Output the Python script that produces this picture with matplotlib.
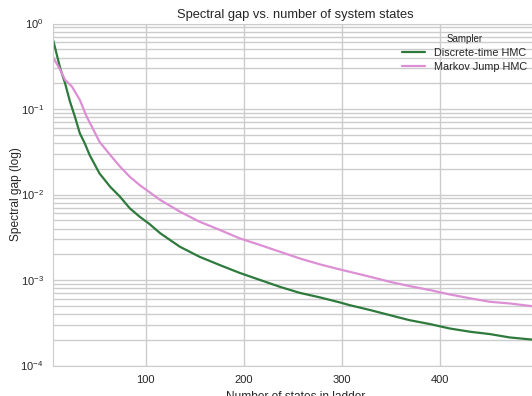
import numpy as np
import seaborn as sns
import matplotlib
matplotlib.use("Agg")
import matplotlib.pyplot as plt

# spectral gap per ladder size, one list per sampler
states_dt = [6, 13, 18, 23, 28, 33, 38, 43, 53, 64, 74, 84, 94, 104, 115,
             135, 155, 176, 196, 217, 237, 257, 278, 298, 308, 329, 349,
             369, 390, 410, 431, 451, 471, 494]
gap_dt = [0.63, 0.30, 0.200, 0.122, 0.0815, 0.0521, 0.0398, 0.0290, 0.0177,
          0.0123, 0.00942, 0.00689, 0.00550, 0.00452, 0.00352, 0.00245,
          0.00187, 0.00149, 0.00121, 0.000998, 0.000832, 0.000708, 0.000625,
          0.000547, 0.000508, 0.000445, 0.000388, 0.000339, 0.000305,
          0.000271, 0.000248, 0.000233, 0.000213, 0.000201]

states_mj = [6, 13, 18, 25, 33, 40, 47, 53, 64, 74, 84, 94, 115, 135, 155,
             176, 196, 217, 237, 257, 278, 298, 329, 349, 369, 390, 410, 431,
             451, 471, 494]
gap_mj = [0.40, 0.287, 0.219, 0.183, 0.128, 0.0815, 0.0569, 0.0415, 0.0290,
          0.0212, 0.0161, 0.0129, 0.00863, 0.00630, 0.00481, 0.00384,
          0.00307, 0.00256, 0.00214, 0.00179, 0.00152, 0.00133, 0.00109,
          0.000953, 0.000849, 0.000762, 0.000678, 0.000610, 0.000556,
          0.000532, 0.000494]

x_ticks = [100, 200, 300, 400]

sns.set_style("whitegrid")
plt.rcParams['font.family'] = ['Liberation Sans', 'DejaVu Sans']
plt.rcParams['mathtext.default'] = 'regular'
plt.rcParams['axes.unicode_minus'] = False

fig = plt.figure(figsize=(5.32, 3.96), dpi=100)
ax = fig.add_axes([53.3 / 532, 1 - 365.5 / 396, (538 - 53.3) / 532, (365.5 - 23.5) / 396])

ax.plot(states_dt, gap_dt, color='#2e7a3d', lw=1.6, label='Discrete-time HMC')
ax.plot(states_mj, gap_mj, color='#dc8fd4', lw=1.6, label='Markov Jump HMC')

ax.set_yscale('log')
ax.set_ylim(1e-4, 1)
ax.set_xlim(6, 500)
ax.set_xticks(x_ticks)
ax.grid(which='major', color='.8', lw=1)
ax.grid(which='minor', axis='y', color='.8', lw=1)
ax.tick_params(labelsize=8, colors='.15', which='both', length=0, pad=7)

ax.set_title('Spectral gap vs. number of system states', fontsize=9.3,
             color='.15', pad=4)
ax.set_xlabel('Number of states in ladder', fontsize=8.6, color='.15')
ax.set_ylabel('Spectral gap (log)', fontsize=8.6, color='.15')
ax.yaxis.set_label_coords(-0.064, 0.5)
ax.xaxis.set_label_coords(0.5, -0.075)

leg = ax.legend(title='Sampler', loc='upper right', frameon=False, fontsize=7.8,
                title_fontsize=7, labelspacing=0.35, handlelength=2.2,
                borderaxespad=0.6)

fig.savefig('out.png', dpi=100)
